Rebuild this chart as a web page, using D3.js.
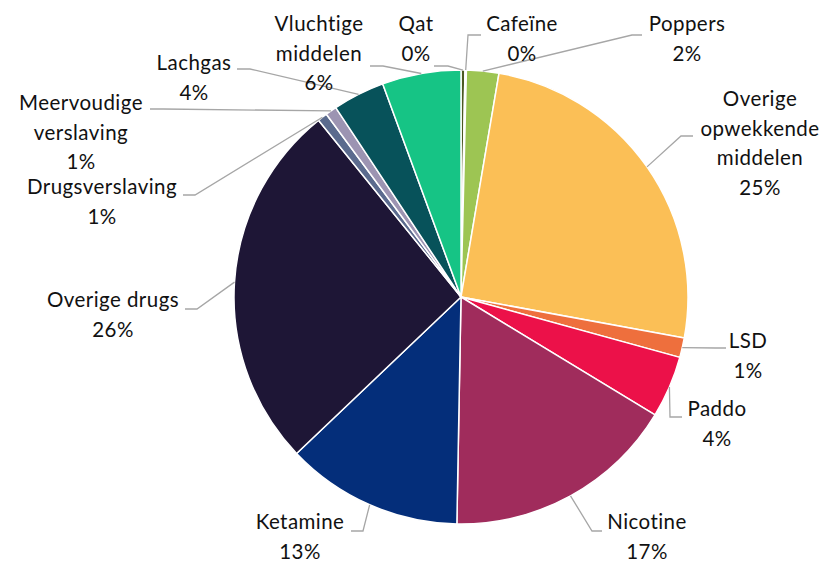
<!DOCTYPE html>
<html>
<head>
<meta charset="utf-8">
<script src="https://cdn.jsdelivr.net/npm/d3@7"></script>
<style>
  html, body { margin: 0; padding: 0; background: #fff; }
  svg { display: block; }
  text { font-family: Lato, "Open Sans", sans-serif; fill: #111; letter-spacing: 0.45px; }
</style>
</head>
<body>
<svg id="chart" width="825" height="563"></svg>
<script>
// ---- data ----
const categories = ["Qat", "Cafeïne", "Poppers", "Overige opwekkende middelen", "LSD", "Paddo",
  "Nicotine", "Ketamine", "Overige drugs", "Drugsverslaving", "Meervoudige verslaving", "Lachgas", "Vluchtige middelen"];
const values = [0.28, 0.1, 2.3, 25.2, 1.4, 4.4, 16.6, 12.6, 26.3, 0.7, 0.8, 3.7, 5.6];
const colors = ["#4b5a22", "#8fa84c", "#9dc553", "#fbbf56", "#ee6f3d", "#ec1149", "#a02c5c",
  "#042e7a", "#1e1636", "#5b6b8e", "#9c94b2", "#07525a", "#16c485"];
// label text lines (category split into lines)
const labelLines = [["Qat"], ["Cafeïne"], ["Poppers"], ["Overige", "opwekkende", "middelen"], ["LSD"], ["Paddo"],
  ["Nicotine"], ["Ketamine"], ["Overige drugs"], ["Drugsverslaving"], ["Meervoudige", "verslaving"], ["Lachgas"], ["Vluchtige", "middelen"]];

// ---- layout ----
const W = 825, H = 563, cx = 461, cy = 297, R = 227;
// label centre (x, y of first line) and leader polyline knee points
const labelLayout = [
  {x: 416, y: 24, pts: [[434, 66], [448, 66]]},
  {x: 522, y: 24, pts: [[481, 35], [468, 35]]},
  {x: 687, y: 24, pts: [[642, 35], [632, 35]]},
  {x: 760, y: 99, pts: [[693, 136], [681, 136]]},
  {x: 748, y: 341, pts: [[726, 348], [716, 348]]},
  {x: 717, y: 409, pts: [[682, 417], [670, 417]]},
  {x: 647, y: 522, pts: [[602, 531], [592, 531]]},
  {x: 300, y: 522, pts: [[351, 531], [363, 531]]},
  {x: 113, y: 300, pts: [[185, 309], [197, 309]]},
  {x: 102, y: 187, pts: [[183, 195], [195, 195]]},
  {x: 81, y: 103, pts: [[150, 109], [163, 109]]},
  {x: 194, y: 63, pts: [[237, 69], [250, 69]]},
  {x: 319, y: 24, pts: [[370, 66], [383, 66]]}
];
const lineH = 29.5;

const svg = d3.select("#chart");
const total = d3.sum(values);
const data = categories.map((c, i) => ({name: c, value: values[i], color: colors[i], lines: labelLines[i], lay: labelLayout[i]}));

const pie = d3.pie().value(d => d.value).sort(null);
const arcs = pie(data);
const arc = d3.arc().innerRadius(0).outerRadius(R);

const g = svg.append("g").attr("transform", `translate(${cx},${cy})`);
g.selectAll("path.slice").data(arcs).join("path")
  .attr("class", "slice")
  .attr("d", arc)
  .attr("fill", d => d.data.color)
  .attr("stroke", "#fff")
  .attr("stroke-width", 1.5)
  .attr("stroke-linejoin", "round");

// leader lines
const edge = d3.arc().innerRadius(R).outerRadius(R);
svg.selectAll("polyline.leader").data(arcs).join("polyline")
  .attr("class", "leader")
  .attr("fill", "none")
  .attr("stroke", "#a6a6a6")
  .attr("stroke-width", 1.3)
  .attr("points", d => {
    const [ex, ey] = edge.centroid(d);
    const pts = d.data.lay.pts.concat([[cx + ex, cy + ey]]);
    return pts.map(p => p.join(",")).join(" ");
  });

// labels
const lbl = svg.selectAll("text.lbl").data(arcs).join("text")
  .attr("class", "lbl")
  .attr("text-anchor", "middle")
  .attr("font-size", 20.5);
lbl.each(function(d) {
  const t = d3.select(this);
  const lines = d.data.lines.concat([Math.round(d.data.value / total * 100) + "%"]);
  lines.forEach((s, k) => {
    t.append("tspan")
      .attr("x", d.data.lay.x)
      .attr("y", d.data.lay.y + k * lineH)
      .attr("dy", "0.35em")
      .text(s);
  });
});
</script>
</body>
</html>
